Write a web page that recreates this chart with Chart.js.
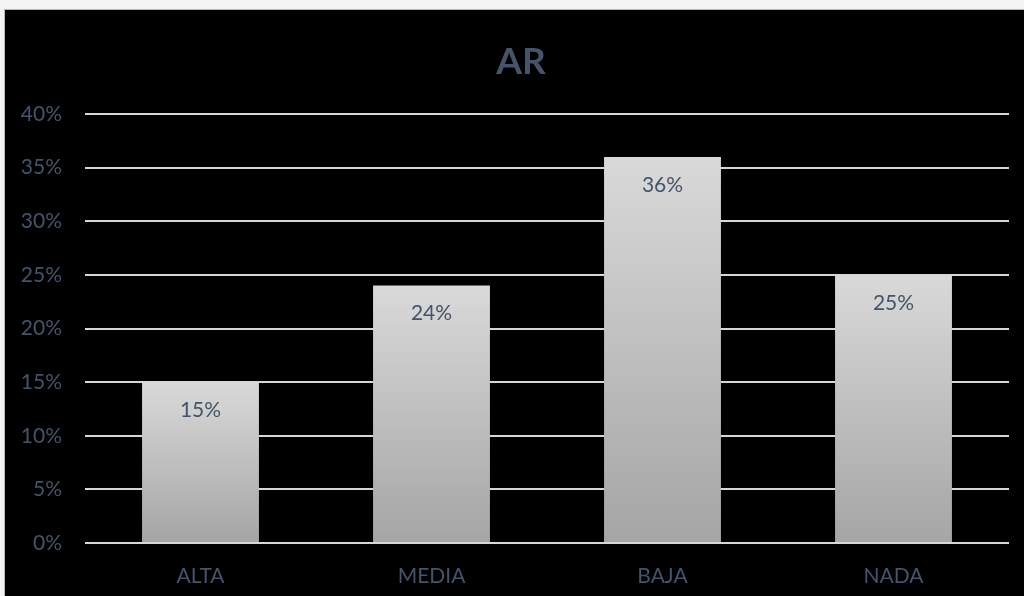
<!DOCTYPE html>
<html lang="es">
<head>
<meta charset="utf-8">
<title>AR</title>
<script src="https://cdn.jsdelivr.net/npm/chart.js@4.4.0/dist/chart.umd.min.js"></script>
<style>
  html, body { margin: 0; padding: 0; background: #f3f3f3; overflow: hidden; }
  #frame {
    position: absolute; left: 4px; top: 9px;
    width: 1019px; height: 586px;
    background: #000; border: 1px solid #b8b8b8; border-right: none; border-bottom: none;
  }
  #frame canvas { display: block; }
</style>
</head>
<body>
<div id="frame"><canvas id="chart" width="1019" height="586"></canvas></div>
<script>
"use strict";

// Series data
const categories = ["ALTA", "MEDIA", "BAJA", "NADA"];
const values = [15, 24, 36, 25];
const yTicks = [0, 5, 10, 15, 20, 25, 30, 35, 40];

const TEXT = "#44546A";
const FONT = "Lato, 'Open Sans', sans-serif";

/** Vertical gray gradient spanning one bar, light at the top. */
function barFill(ctx) {
  const chart = ctx.chart;
  const y = chart.scales.y;
  if (!chart.chartArea || !y || ctx.dataIndex === undefined) return "#c0c0c0";
  const top = y.getPixelForValue(values[ctx.dataIndex]);
  const base = y.getPixelForValue(0);
  const g = chart.ctx.createLinearGradient(0, top, 0, base);
  g.addColorStop(0, "#d9d9d9");
  g.addColorStop(1, "#a5a5a5");
  return g;
}

// Writes each value just inside the top of its bar.
const valueLabels = {
  id: "valueLabels",
  afterDatasetsDraw(chart) {
    const ctx = chart.ctx;
    const meta = chart.getDatasetMeta(0);
    ctx.save();
    ctx.font = `21px ${FONT}`;
    ctx.fillStyle = TEXT;
    ctx.textAlign = "center";
    ctx.textBaseline = "middle";
    meta.data.forEach((bar, i) => {
      ctx.fillText(values[i] + "%", bar.x, bar.y + 28);
    });
    ctx.restore();
  },
};

// The left padding only serves to centre the title; let the y labels use it.
const widenYLabels = {
  id: "widenYLabels",
  afterLayout(chart) {
    chart.scales.y.left = 0;
  },
};

new Chart(document.getElementById("chart"), {
  type: "bar",
  data: {
    labels: categories,
    datasets: [{
      data: values,
      backgroundColor: barFill,
      borderWidth: 0,
      categoryPercentage: 1,
      barPercentage: 0.506,
    }],
  },
  options: {
    responsive: false,
    animation: false,
    layout: { padding: { left: 28, right: 15, top: 0, bottom: 0 } },
    plugins: {
      legend: { display: false },
      tooltip: { enabled: false },
      title: {
        display: true,
        text: "AR",
        color: TEXT,
        font: { family: FONT, size: 37, weight: "bold" },
        padding: { top: 30, bottom: 29.6 },
      },
    },
    scales: {
      x: {
        grid: { display: false, drawTicks: false },
        border: { display: false },
        ticks: { color: TEXT, font: { family: FONT, size: 21 }, padding: 21 },
        afterFit(scale) { scale.height = 53; },
      },
      y: {
        min: 0,
        max: 40,
        afterBuildTicks(scale) { scale.ticks = yTicks.map((v) => ({ value: v })); },
        grid: { color: "#d6d6d6", lineWidth: 2, drawTicks: false },
        border: { display: false },
        ticks: {
          color: TEXT,
          font: { family: FONT, size: 21 },
          padding: 23,
          callback: (v) => v + "%",
        },
        afterFit(scale) { scale.width = 52; },
      },
    },
  },
  plugins: [valueLabels, widenYLabels],
});
</script>
</body>
</html>
